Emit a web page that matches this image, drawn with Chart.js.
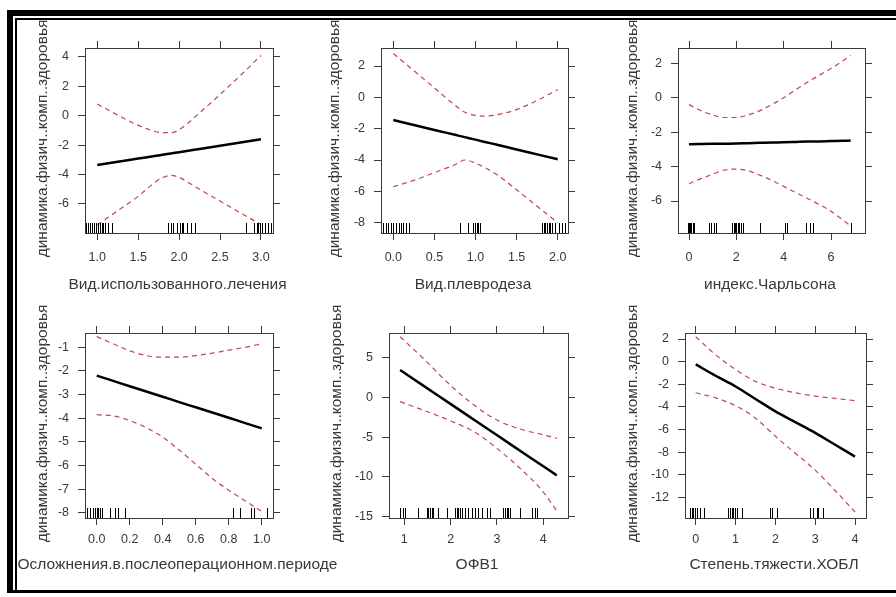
<!DOCTYPE html>
<html>
<head>
<meta charset="utf-8">
<script src="https://cdn.jsdelivr.net/npm/chart.js@4.4.0/dist/chart.umd.min.js"></script>
<style>
  body { margin: 0; background: #fff; width: 896px; height: 597px; position: relative; overflow: hidden; }
  .bar { position: absolute; background: #000; }
  canvas { position: absolute; }
</style>
</head>
<body>
<div class="bar" style="left:7px;top:10px;width:889px;height:6px"></div>
<div class="bar" style="left:15px;top:18px;width:881px;height:2px"></div>
<div class="bar" style="left:7px;top:10px;width:6px;height:583px"></div>
<div class="bar" style="left:15px;top:18px;width:2px;height:575px"></div>
<div class="bar" style="left:7px;top:590px;width:889px;height:3px"></div>

<canvas id="p1"></canvas>
<canvas id="p2"></canvas>
<canvas id="p3"></canvas>
<canvas id="p4"></canvas>
<canvas id="p5"></canvas>
<canvas id="p6"></canvas>

<script>
const yTitle = "динамика.физич..комп..здоровья";

// 1. Вид.использованного.лечения
const xLabel1 = "Вид.использованного.лечения";
const x1 = [1.0, 1.25, 1.5, 1.7, 1.8, 1.9, 2.0, 2.25, 2.5, 2.75, 3.0];
const fit1 = [-3.35, -3.13, -2.91, -2.74, -2.65, -2.56, -2.48, -2.26, -2.04, -1.82, -1.6];
const upper1 = [0.8, 0.05, -0.65, -1.05, -1.15, -1.15, -0.95, 0.2, 1.45, 2.75, 4.1];
const lower1 = [-7.43, -6.45, -5.48, -4.55, -4.2, -4.05, -4.2, -5.0, -5.8, -6.6, -7.4];
const rug1 = [0.862, 0.886, 0.911, 0.935, 0.96, 0.984, 1.012, 1.033, 1.054, 1.073, 1.094, 1.134, 1.183,
  1.867, 1.9, 1.929, 1.977, 2.01, 2.031, 2.051, 2.1, 2.145, 2.194,
  2.813, 2.915, 2.947, 2.967, 2.988, 3.008, 3.049, 3.082, 3.118];
const xTicks1 = ["1.0", "1.5", "2.0", "2.5", "3.0"];
const yTicks1 = ["-6", "-4", "-2", "0", "2", "4"];

// 2. Вид.плевродеза
const xLabel2 = "Вид.плевродеза";
const x2 = [0, 0.25, 0.5, 0.75, 0.87, 1.0, 1.1, 1.25, 1.5, 1.75, 2.0];
const fit2 = [-1.45, -1.76, -2.08, -2.39, -2.54, -2.7, -2.83, -3.01, -3.33, -3.64, -3.95];
const upper2 = [2.8, 1.7, 0.6, -0.5, -0.95, -1.15, -1.2, -1.12, -0.78, -0.2, 0.5];
const lower2 = [-5.7, -5.3, -4.8, -4.3, -4.0, -4.2, -4.45, -4.9, -5.9, -6.95, -8.0];
const rug2 = [-0.122, -0.093, -0.061, -0.028, 0.0, 0.029, 0.069, 0.094, 0.122, 0.151, 0.191,
  0.812, 0.914, 0.975, 0.995, 1.016, 1.035, 1.056,
  1.807, 1.827, 1.848, 1.868, 1.888, 1.909, 1.929, 1.969, 2.01, 2.051, 2.091];
const xTicks2 = ["0.0", "0.5", "1.0", "1.5", "2.0"];
const yTicks2 = ["-8", "-6", "-4", "-2", "0", "2"];

// 3. индекс.Чарльсона
const xLabel3 = "индекс.Чарльсона";
const x3 = [0, 0.5, 1, 1.5, 2, 2.5, 3, 3.5, 4, 4.5, 5, 5.5, 6, 6.5, 6.83];
const fit3 = [-2.7, -2.69, -2.68, -2.67, -2.66, -2.64, -2.62, -2.6, -2.59, -2.57, -2.55, -2.54, -2.52, -2.5, -2.49];
const upper3 = [-0.4, -0.75, -1.0, -1.15, -1.15, -1.0, -0.75, -0.4, 0.0, 0.45, 0.9, 1.3, 1.7, 2.15, 2.45];
const lower3 = [-5.0, -4.7, -4.45, -4.2, -4.15, -4.25, -4.5, -4.8, -5.15, -5.5, -5.85, -6.2, -6.6, -7.1, -7.45];
const rug3 = [-0.05, 0.0, 0.05, 0.1, 0.15, 0.2, 0.85, 0.95, 1.05, 1.15,
  1.8, 1.9, 1.95, 2.0, 2.05, 2.1, 2.2, 2.3, 2.98, 3.02, 4.05, 4.12, 4.95, 5.1, 5.25, 6.83];
const xTicks3 = ["0", "2", "4", "6"];
const yTicks3 = ["-6", "-4", "-2", "0", "2"];

// 4. Осложнения.в.послеоперационном.периоде
const xLabel4 = "Осложнения.в.послеоперационном.периоде";
const x4 = [0, 0.1, 0.2, 0.3, 0.4, 0.5, 0.6, 0.7, 0.8, 0.9, 1.0];
const fit4 = [-2.2, -2.42, -2.65, -2.87, -3.09, -3.32, -3.54, -3.76, -3.98, -4.21, -4.43];
const upper4 = [-0.55, -0.85, -1.15, -1.35, -1.42, -1.42, -1.35, -1.25, -1.12, -1.0, -0.85];
const lower4 = [-3.85, -3.9, -4.1, -4.4, -4.8, -5.35, -5.95, -6.55, -7.05, -7.5, -7.95];
const rug4 = [-0.057, -0.04, -0.024, -0.01, 0.0, 0.01, 0.02, 0.03, 0.08, 0.11, 0.131, 0.172,
  0.828, 0.869, 0.933, 0.954, 1.03];
const xTicks4 = ["0.0", "0.2", "0.4", "0.6", "0.8", "1.0"];
const yTicks4 = ["-8", "-7", "-6", "-5", "-4", "-3", "-2", "-1"];

// 5. ОФВ1
const xLabel5 = "ОФВ1";
const x5 = [0.91, 1.41, 2.02, 2.56, 3.02, 3.57, 4.0, 4.29];
const fit5 = [3.45, 1.49, -0.9, -3.02, -4.82, -6.98, -8.66, -9.8];
const upper5 = [7.64, 4.9, 1.4, -1.2, -2.9, -4.1, -4.7, -5.14];
const lower5 = [-0.53, -1.6, -3.0, -4.5, -6.5, -9.3, -11.9, -14.25];
const rug5 = [0.907, 0.979, 1.015, 1.302, 1.483, 1.518, 1.555, 1.591, 1.626, 1.734,
  1.915, 2.094, 2.131, 2.166, 2.202, 2.238, 2.31, 2.381, 2.455, 2.526, 2.597, 2.671, 2.779, 2.85,
  3.137, 3.174, 3.21, 3.245, 3.281, 3.497, 3.75, 3.821, 3.858];
const xTicks5 = ["1", "2", "3", "4"];
const yTicks5 = ["-15", "-10", "-5", "0", "5"];

// 6. Степень.тяжести.ХОБЛ
const xLabel6 = "Степень.тяжести.ХОБЛ";
const x6 = [0, 0.5, 1, 1.5, 2, 2.5, 3, 3.5, 4];
const fit6 = [-0.25, -1.25, -2.2, -3.3, -4.4, -5.35, -6.3, -7.35, -8.4];
const upper6 = [2.2, 0.6, -0.7, -1.75, -2.35, -2.75, -3.05, -3.25, -3.45];
const lower6 = [-2.75, -3.2, -3.9, -5.0, -6.6, -8.1, -9.6, -11.4, -13.3];
const rug6 = [-0.143, -0.1, -0.06, -0.017, 0.04, 0.108, 0.21,
  0.82, 0.86, 0.9, 0.944, 0.986, 1.03, 1.154, 1.866, 1.91, 2.03,
  2.87, 2.953, 3.037, 3.08, 3.19];
const xTicks6 = ["0", "1", "2", "3", "4"];
const yTicks6 = ["-12", "-10", "-8", "-6", "-4", "-2", "0", "2"];

const panels = [
  { id: "p1", xLabel: xLabel1, x: x1, fit: fit1, upper: upper1, lower: lower1, rug: rug1, xTicks: xTicks1, yTicks: yTicks1 },
  { id: "p2", xLabel: xLabel2, x: x2, fit: fit2, upper: upper2, lower: lower2, rug: rug2, xTicks: xTicks2, yTicks: yTicks2 },
  { id: "p3", xLabel: xLabel3, x: x3, fit: fit3, upper: upper3, lower: lower3, rug: rug3, xTicks: xTicks3, yTicks: yTicks3 },
  { id: "p4", xLabel: xLabel4, x: x4, fit: fit4, upper: upper4, lower: lower4, rug: rug4, xTicks: xTicks4, yTicks: yTicks4 },
  { id: "p5", xLabel: xLabel5, x: x5, fit: fit5, upper: upper5, lower: lower5, rug: rug5, xTicks: xTicks5, yTicks: yTicks5 },
  { id: "p6", xLabel: xLabel6, x: x6, fit: fit6, upper: upper6, lower: lower6, rug: rug6, xTicks: xTicks6, yTicks: yTicks6 },
];

// plot boxes on the page and axis ranges
const boxes = [
  { box: [85, 48, 273, 233], xr: [0.85, 3.147], yr: [-7.973, 4.612], yGap: 42, xGap: 52, lblPad: 10 },
  { box: [381, 48, 568, 233], xr: [-0.15, 2.125], yr: [-8.657, 3.149], yGap: 46, xGap: 52, lblPad: 10 },
  { box: [678, 48, 865, 233], xr: [-0.465, 7.436], yr: [-7.859, 2.889], yGap: 45, xGap: 52, lblPad: 10 },
  { box: [85, 333, 273, 518], xr: [-0.071, 1.068], yr: [-8.224, -0.395], yGap: 42, xGap: 47, lblPad: 7 },
  { box: [389, 333, 568, 518], xr: [0.67, 4.533], yr: [-15.164, 8.107], yGap: 52, xGap: 47, lblPad: 7 },
  { box: [685, 333, 866, 518], xr: [-0.269, 4.275], yr: [-13.829, 2.531], yGap: 52, xGap: 47, lblPad: 7 },
];

const SIDE = 75, TOP = 35, BOTTOM = 70;
const FONT = '"Liberation Sans", Arial, sans-serif';
const AXIS = "#3a3a3a";
const RED = "rgb(192,72,72)";

const rugPlugin = {
  id: "rug",
  afterDatasetsDraw(chart, args, opts) {
    const { ctx, chartArea, scales } = chart;
    ctx.save();
    ctx.strokeStyle = "#000";
    ctx.lineWidth = 1;
    ctx.beginPath();
    opts.values.forEach((v) => {
      const px = Math.round(scales.x.getPixelForValue(v)) + 0.5;
      ctx.moveTo(px, chartArea.bottom);
      ctx.lineTo(px, chartArea.bottom - 10);
    });
    ctx.stroke();
    ctx.restore();
  },
};

const titlePlugin = {
  id: "axisTitles",
  afterDraw(chart, args, opts) {
    const { ctx, chartArea: a } = chart;
    ctx.save();
    ctx.font = "15.5px " + FONT;
    ctx.fillStyle = "#383838";
    ctx.textAlign = "center";
    ctx.textBaseline = "middle";
    ctx.fillText(opts.x, (a.left + a.right) / 2 - 1.5, a.bottom + opts.xGap);
    ctx.translate(a.left - opts.yGap, (a.top + a.bottom) / 2 - 2);
    ctx.rotate(-Math.PI / 2);
    ctx.fillText(opts.y, 0, 0);
    ctx.restore();
  },
};

function line(xs, ys, color, width, dash) {
  return {
    data: xs.map((x, i) => ({ x: x, y: ys[i] })),
    borderColor: color,
    borderWidth: width,
    borderDash: dash,
    pointRadius: 0,
    fill: false,
    cubicInterpolationMode: "monotone",
  };
}

function axis(pos, range, labels, size, showLabels, pad) {
  const horizontal = pos === "top" || pos === "bottom";
  return {
    type: "linear",
    position: pos,
    min: range[0],
    max: range[1],
    afterBuildTicks: (s) => { s.ticks = labels.map((t) => ({ value: Number(t) })); },
    afterFit: (s) => { if (horizontal) s.height = size; else s.width = size; },
    grid: { drawOnChartArea: false, drawTicks: true, tickLength: 7, color: AXIS, lineWidth: 1 },
    border: { display: true, color: AXIS, width: 1 },
    ticks: {
      display: showLabels,
      autoSkip: false,
      maxRotation: 0,
      padding: pad,
      color: "#383838",
      font: { family: FONT, size: 12.5 },
      callback: (v, i) => labels[i],
    },
  };
}

panels.forEach((p, k) => {
  const b = boxes[k];
  const [L, T, R, B] = b.box;
  const el = document.getElementById(p.id);
  el.width = R - L + 2 * SIDE;
  el.height = B - T + TOP + BOTTOM;
  el.style.left = (L - SIDE) + "px";
  el.style.top = (T - TOP) + "px";

  new Chart(el, {
    type: "line",
    data: {
      datasets: [
        line(p.x, p.upper, RED, 1.2, [5, 4]),
        line(p.x, p.lower, RED, 1.2, [5, 4]),
        line(p.x, p.fit, "#000", 2.5, []),
      ],
    },
    options: {
      responsive: false,
      animation: false,
      events: [],
      layout: { padding: 0 },
      plugins: {
        legend: { display: false },
        tooltip: { enabled: false },
        rug: { values: p.rug },
        axisTitles: { x: p.xLabel, y: yTitle, xGap: b.xGap, yGap: b.yGap },
      },
      scales: {
        x: axis("bottom", b.xr, p.xTicks, BOTTOM, true, b.lblPad),
        x2: axis("top", b.xr, p.xTicks, TOP, false, 0),
        y: axis("left", b.yr, p.yTicks, SIDE, true, 9),
        y2: axis("right", b.yr, p.yTicks, SIDE, false, 0),
      },
    },
    plugins: [rugPlugin, titlePlugin],
  });
});
</script>
</body>
</html>
